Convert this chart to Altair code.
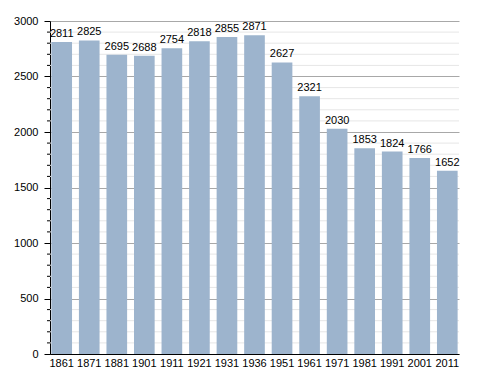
import altair as alt
import pandas as pd

years = ["1861", "1871", "1881", "1901", "1911", "1921", "1931", "1936",
         "1951", "1961", "1971", "1981", "1991", "2001", "2011"]
population = [2811, 2825, 2695, 2688, 2754, 2818, 2855, 2871,
              2627, 2321, 2030, 1853, 1824, 1766, 1652]
minor_values = [v for v in range(100, 3000, 100) if v % 500 != 0]

df = pd.DataFrame({"year": years, "pop": population})
mdf = pd.DataFrame({"pop": minor_values})

FONT = "Liberation Sans"
W, H = 409, 333

xscale = alt.Scale(paddingInner=0.25, paddingOuter=0.05)
yscale = alt.Scale(domain=[0, 3000], nice=False)
yaxis = alt.Axis(values=list(range(0, 3001, 500)), title=None, format="d",
                 grid=True, gridColor="#a8a8a8", tickSize=6,
                 tickColor="#000", domainColor="#000",
                 labelColor="#000", labelFont=FONT,
                 labelFontSize=11, labelPadding=6)

minor_grid = alt.Chart(mdf).mark_rule(color="#e6e6e6", strokeWidth=1).encode(
    y=alt.Y("pop:Q", scale=yscale, axis=yaxis),
    x=alt.value(0), x2=alt.value(W),
)
minor_ticks = alt.Chart(mdf).mark_rule(color="#000", strokeWidth=1).encode(
    y=alt.Y("pop:Q", scale=yscale, axis=yaxis),
    x=alt.value(-3), x2=alt.value(0),
)

bars = alt.Chart(df).mark_bar(color="#9db4cd").encode(
    x=alt.X("year:N", sort=years, scale=xscale,
            axis=alt.Axis(title=None, labelAngle=0, ticks=False,
                          domainColor="#000", labelColor="#000",
                          labelFont=FONT, labelFontSize=11, labelPadding=3)),
    y=alt.Y("pop:Q", scale=yscale, axis=yaxis),
)

text = alt.Chart(df).mark_text(baseline="bottom", dy=-3, font=FONT,
                               fontSize=11, color="#000").encode(
    x=alt.X("year:N", sort=years, scale=xscale),
    y=alt.Y("pop:Q", scale=yscale, axis=yaxis),
    text="pop:Q",
)

chart = alt.layer(minor_grid, minor_ticks, bars, text).properties(
    width=W, height=H,
    autosize=alt.AutoSizeParams(type="none"),
    padding={"left": 42, "top": 13, "right": 21, "bottom": 19},
).configure_view(stroke=None).configure_axis(domainWidth=1)

chart.save("out.html", embed_options={"renderer": "svg", "actions": False})
